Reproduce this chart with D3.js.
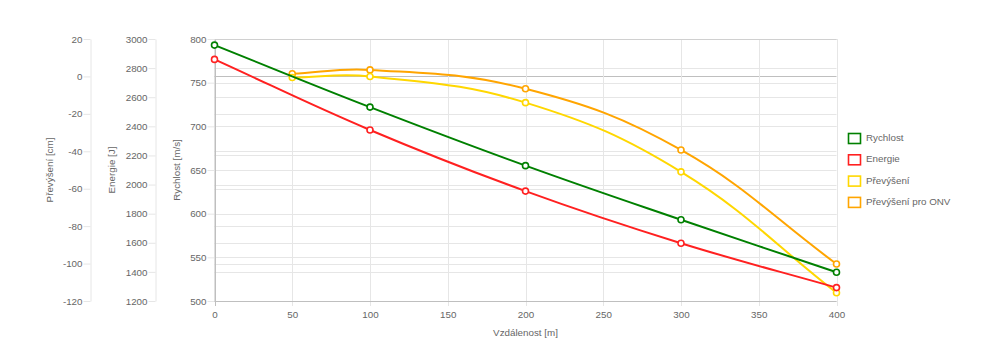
<!DOCTYPE html>
<html>
<head>
<meta charset="utf-8">
<script src="https://cdn.jsdelivr.net/npm/d3@7"></script>
<style>
    body { margin: 0; background: #fff; }
    text { font-family: "Liberation Sans", Arial, Helvetica, sans-serif; fill: #666; }
</style>
</head>
<body>
<svg id="chart"></svg>
<script>
// data
const distances = [0, 50, 100, 200, 300, 400]
const speed = [793, null, 722, 655, 593, 533]            // Rychlost [m/s]
const energy = [2860, null, 2375, 1955, 1597, 1292]      // Energie [J]
const drop = [null, -0.6, 0, -14, -51, -115.6]           // Převýšení [cm]
const dropOnv = [null, 1.4, 3.5, -6.6, -39.3, -100.2]    // Převýšení pro ONV [cm]

const seriesNames = ["Rychlost", "Energie", "Převýšení", "Převýšení pro ONV"]

const distanceTicks = [0, 50, 100, 150, 200, 250, 300, 350, 400]
const speedTicks = [500, 550, 600, 650, 700, 750, 800]
const energyTicks = [1200, 1400, 1600, 1800, 2000, 2200, 2400, 2600, 2800, 3000]
const dropTicks = [-120, -100, -80, -60, -40, -20, 0, 20]

const config = {
    width: 1004,
    height: 364,
    area: { left: 214.5, right: 836.5, top: 39, bottom: 301 },
    colors: { grid: "#e6e6e6", zero: "#bfbfbf", series: ["green", "#ff2020", "gold", "orange"] },
    fontSize: "9.8px",
    tension: 0.4
}

const a = config.area
const plainNumber = d => String(d)
const svg = d3.select("#chart").attr("width", config.width).attr("height", config.height)

const x = d3.scaleLinear().domain([0, 400]).range([a.left, a.right])
const ySpeed = d3.scaleLinear().domain([500, 800]).range([a.bottom, a.top])
const yEnergy = d3.scaleLinear().domain([1200, 3000]).range([a.bottom, a.top])
const yDrop = d3.scaleLinear().domain([-120, 20]).range([a.bottom, a.top])

// horizontal grid lines of all three y axes
const grid = svg.append("g")
const hLines = function (scale, ticks, zeroValue) {
    grid.selectAll(null).data(ticks).enter().append("line")
        .attr("x1", a.left).attr("x2", a.right)
        .attr("y1", d => Math.round(scale(d)) + 0.5).attr("y2", d => Math.round(scale(d)) + 0.5)
        .style("stroke", d => d === zeroValue ? config.colors.zero : config.colors.grid)
        .style("stroke-width", 1)
}
hLines(yEnergy, energyTicks)
hLines(yDrop, dropTicks, 0)
hLines(ySpeed, speedTicks)

// vertical grid lines
grid.selectAll(null).data(distanceTicks).enter().append("line")
    .attr("x1", d => Math.round(x(d)) + 0.5).attr("x2", d => Math.round(x(d)) + 0.5)
    .attr("y1", a.top).attr("y2", a.bottom + 5)
    .style("stroke", d => d === 0 ? config.colors.zero : config.colors.grid)

// borders
grid.append("line").attr("x1", a.left - 5).attr("x2", a.right)
    .attr("y1", a.bottom + 0.5).attr("y2", a.bottom + 0.5).style("stroke", config.colors.zero)
grid.append("line").attr("x1", a.left).attr("x2", a.right)
    .attr("y1", a.top + 0.5).attr("y2", a.top + 0.5).style("stroke", "#d0d0d0")

// x axis
const xAxis = svg.append("g").attr("transform", `translate(0,${a.bottom})`)
    .call(d3.axisBottom(x).tickValues(distanceTicks).tickFormat(plainNumber).tickSize(0).tickPadding(10))
xAxis.select(".domain").remove()
xAxis.selectAll("text").style("font-size", config.fontSize).style("fill", "#666")

// y axes
const yAxis = function (scale, ticks, xPos, domainColor) {
    const g = svg.append("g").attr("transform", `translate(${xPos},0)`)
        .call(d3.axisLeft(scale).tickValues(ticks).tickFormat(plainNumber)
            .tickSize(7).tickPadding(1).tickSizeOuter(0))
    g.select(".domain").style("stroke", domainColor)
    g.selectAll(".tick line").style("stroke", config.colors.grid)
    g.selectAll("text").style("font-size", config.fontSize).style("fill", "#666")
    return g
}
yAxis(yDrop, dropTicks, 90.5, config.colors.grid)
yAxis(yEnergy, energyTicks, 155.5, config.colors.grid)
yAxis(ySpeed, speedTicks, a.left, config.colors.zero)

// axis titles
const titles = [
    { label: "Převýšení [cm]", x: 50 },
    { label: "Energie [J]", x: 112 },
    { label: "Rychlost [m/s]", x: 177 }
]
titles.forEach(t => {
    svg.append("text").text(t.label)
        .attr("transform", `translate(${t.x},${(a.top + a.bottom) / 2}) rotate(-90)`)
        .attr("text-anchor", "middle").attr("dominant-baseline", "middle")
        .style("font-size", config.fontSize)
})
svg.append("text").text("Vzdálenost [m]")
    .attr("x", (a.left + a.right) / 2).attr("y", 336)
    .attr("text-anchor", "middle")
    .style("font-size", config.fontSize)

// Chart.js-like spline
const splinePath = function (pts) {
    const t = config.tension
    const ctrl = pts.map((p, i) => {
        const prev = pts[i - 1] || p
        const next = pts[i + 1] || p
        const d01 = Math.hypot(p[0] - prev[0], p[1] - prev[1])
        const d12 = Math.hypot(next[0] - p[0], next[1] - p[1])
        let s01 = d01 / (d01 + d12), s12 = d12 / (d01 + d12)
        if (isNaN(s01)) s01 = 0
        if (isNaN(s12)) s12 = 0
        const fa = t * s01, fb = t * s12
        const clampY = v => Math.max(a.top, Math.min(a.bottom, v))
        return {
            prev: [p[0] - fa * (next[0] - prev[0]), clampY(p[1] - fa * (next[1] - prev[1]))],
            next: [p[0] + fb * (next[0] - prev[0]), clampY(p[1] + fb * (next[1] - prev[1]))]
        }
    })
    let d = `M${pts[0][0]},${pts[0][1]}`
    for (let i = 1; i < pts.length; i++) {
        d += `C${ctrl[i - 1].next[0]},${ctrl[i - 1].next[1]} ${ctrl[i].prev[0]},${ctrl[i].prev[1]} ${pts[i][0]},${pts[i][1]}`
    }
    return d
}

const series = [
    { values: speed, scale: ySpeed },
    { values: energy, scale: yEnergy },
    { values: drop, scale: yDrop },
    { values: dropOnv, scale: yDrop }
]
// draw in reverse so green ends up on top
const plot = svg.append("g")
series.slice().reverse().forEach((s, ri) => {
    const idx = series.length - 1 - ri
    const color = config.colors.series[idx]
    const pts = distances.map((d, i) => [d, s.values[i]]).filter(p => p[1] !== null)
        .map(p => [x(p[0]), s.scale(p[1])])
    plot.append("path").attr("d", splinePath(pts))
        .style("fill", "none").style("stroke", color).style("stroke-width", 2)
    plot.selectAll(null).data(pts).enter().append("circle")
        .attr("cx", p => p[0]).attr("cy", p => p[1]).attr("r", 3)
        .style("fill", "#fff").style("stroke", color).style("stroke-width", 1.6)
})

// legend
const legend = svg.append("g").attr("transform", "translate(848,133)")
seriesNames.forEach((name, i) => {
    const item = legend.append("g").attr("transform", `translate(0,${i * 21.3})`)
    item.append("rect").attr("x", 0.5).attr("y", 0.5).attr("width", 12).attr("height", 10)
        .style("fill", "#fff").style("stroke", config.colors.series[i]).style("stroke-width", 1.6)
    item.append("text").text(name).attr("x", 18).attr("y", 5.5)
        .attr("dominant-baseline", "middle").style("font-size", config.fontSize)
})
</script>
</body>
</html>
